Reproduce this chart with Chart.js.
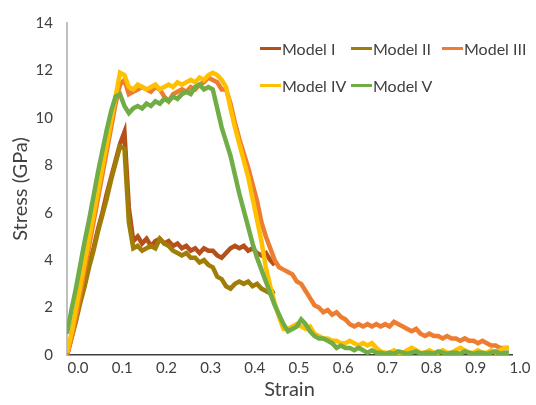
<!DOCTYPE html>
<html>
<head>
<meta charset="utf-8">
<script src="https://cdn.jsdelivr.net/npm/chart.js@4/dist/chart.umd.min.js"></script>
<style>
  body { margin: 0; background: #fff; }
  #wrap { position: relative; width: 536px; height: 405px; }
  #legend {
    position: absolute; left: 260px; top: 30px;
    display: grid; grid-template-columns: 91px 91px 91px; grid-auto-rows: 37px;
    font-family: Lato, sans-serif; font-size: 16px; color: #404040;
  }
  #legend .item { display: flex; align-items: center; }
  #legend .swatch { width: 21px; height: 3px; margin-right: 1px; }
</style>
</head>
<body>
<div id="wrap">
  <canvas id="chart"></canvas>
  <div id="legend"></div>
</div>
<script>
const strain = [
  -0.025, -0.015, -0.005, 0.005, 0.015, 0.025, 0.035, 0.045, 0.055, 0.065,
  0.075, 0.085, 0.095, 0.105, 0.115, 0.125, 0.135, 0.145, 0.155, 0.165,
  0.175, 0.185, 0.195, 0.205, 0.215, 0.225, 0.235, 0.245, 0.255, 0.265,
  0.275, 0.285, 0.295, 0.305, 0.315, 0.325, 0.335, 0.345, 0.355, 0.365,
  0.375, 0.385, 0.395, 0.405, 0.415, 0.425, 0.435, 0.445, 0.455, 0.465,
  0.475, 0.485, 0.495, 0.505, 0.515, 0.525, 0.535, 0.545, 0.555, 0.565,
  0.575, 0.585, 0.595, 0.605, 0.615, 0.625, 0.635, 0.645, 0.655, 0.665,
  0.675, 0.685, 0.695, 0.705, 0.715, 0.725, 0.735, 0.745, 0.755, 0.765,
  0.775, 0.785, 0.795, 0.805, 0.815, 0.825, 0.835, 0.845, 0.855, 0.865,
  0.875, 0.885, 0.895, 0.905, 0.915, 0.925, 0.935, 0.945, 0.955, 0.965,
  0.975
];

const modelI = [
  0.0, 0.75, 1.5, 2.3, 3.0, 3.8, 4.5, 5.3, 6.0, 6.8,
  7.5, 8.2, 8.9, 9.4, 6.2, 4.8, 5.0, 4.7, 4.9, 4.6,
  4.8, 4.9, 4.7, 4.8, 4.6, 4.7, 4.5, 4.6, 4.4, 4.5,
  4.3, 4.5, 4.4, 4.4, 4.2, 4.1, 4.3, 4.5, 4.6, 4.5,
  4.6, 4.4, 4.5, 4.3, 4.2, 4.3, 4.0, 3.8
];

const modelII = [
  0.0, 0.7, 1.4, 2.2, 2.9, 3.7, 4.4, 5.2, 5.9, 6.6,
  7.4, 8.1, 8.8, 8.7, 5.6, 4.5, 4.6, 4.4, 4.5, 4.6,
  4.5, 4.9, 4.7, 4.6, 4.4, 4.3, 4.2, 4.3, 4.1, 4.1,
  3.9, 4.0, 3.8, 3.7, 3.3, 3.2, 2.9, 2.8, 3.0, 3.1,
  3.0, 3.1, 2.9, 3.0, 2.8, 2.7, 2.6, 2.7
];

const modelIII = [
  0.0, 0.7, 1.6, 2.6, 3.6, 4.6, 5.6, 6.6, 7.6, 8.6,
  9.6, 10.6, 11.4, 11.6, 11.0, 11.1, 11.2, 11.3, 11.2, 11.1,
  11.3, 11.2, 10.9, 10.7, 11.0, 11.1, 11.2, 11.1, 11.3, 11.2,
  11.4, 11.5, 11.7, 11.6, 11.5, 11.2, 11.2, 10.6, 9.8, 9.1,
  8.5, 7.9, 7.2, 6.5, 5.6, 5.0, 4.5, 4.0, 3.7, 3.6,
  3.5, 3.4, 3.1, 3.0, 2.7, 2.4, 2.1, 2.0, 1.8, 1.9,
  1.7, 1.8, 1.6, 1.5, 1.3, 1.2, 1.3, 1.2, 1.3, 1.2,
  1.3, 1.2, 1.3, 1.2, 1.4, 1.3, 1.2, 1.1, 1.0, 1.1,
  0.9, 0.8, 0.9, 0.8, 0.8, 0.7, 0.8, 0.7, 0.7, 0.6,
  0.7, 0.6, 0.6, 0.5, 0.6, 0.5, 0.4, 0.4, 0.3, 0.3,
  0.3
];

const modelIV = [
  0.1, 0.9, 1.9, 2.9, 3.9, 4.9, 5.9, 6.9, 7.9, 8.9,
  9.9, 10.9, 11.9, 11.8, 11.3, 11.2, 11.4, 11.3, 11.2, 11.3,
  11.4, 11.2, 11.3, 11.4, 11.3, 11.5, 11.4, 11.5, 11.6, 11.5,
  11.7, 11.6, 11.8, 11.9, 11.8, 11.6, 11.3, 10.4, 9.6, 8.9,
  8.2, 7.5, 6.6, 5.7, 4.8, 3.7, 2.9, 2.2, 1.6, 1.1,
  1.1, 1.2, 1.3, 1.2, 1.1, 1.2, 0.9, 0.8, 0.7, 0.7,
  0.6, 0.6, 0.5, 0.5, 0.6, 0.5, 0.4, 0.5, 0.4, 0.5,
  0.3, 0.15, 0.1, 0.1, 0.2, 0.1, 0.1, 0.2, 0.3, 0.2,
  0.1, 0.1, 0.2, 0.1, 0.1, 0.2, 0.1, 0.1, 0.2, 0.3,
  0.2, 0.1, 0.1, 0.2, 0.1, 0.1, 0.2, 0.1, 0.2, 0.3,
  0.3
];

const modelV = [
  0.9, 1.9, 2.8, 3.8, 4.8, 5.7, 6.7, 7.7, 8.6, 9.5,
  10.3, 10.9, 11.0, 10.5, 10.2, 10.4, 10.5, 10.4, 10.6, 10.5,
  10.7, 10.6, 10.8, 10.7, 10.9, 10.8, 11.0, 11.1, 11.0, 11.3,
  11.4, 11.2, 11.3, 11.2, 10.4, 9.6, 9.0, 8.4, 7.6, 6.8,
  6.1, 5.4, 4.7, 4.1, 3.6, 3.1, 2.6, 2.1, 1.7, 1.3,
  1.0, 1.1, 1.2, 1.5, 1.3, 1.0, 0.8, 0.7, 0.7, 0.6,
  0.5, 0.3, 0.4, 0.3, 0.3, 0.2, 0.3, 0.2, 0.1, 0.2,
  0.1, 0.1, 0.05, 0.1, 0.05, 0.15, 0.1, 0.05, 0.1, 0.15,
  0.05, 0.1, 0.1, 0.05, 0.15, 0.1, 0.05, 0.1, 0.1, 0.05,
  0.15, 0.1, 0.05, 0.1, 0.1, 0.05, 0.1, 0.15, 0.05, 0.1,
  0.1
];

const xTicks = [0.0, 0.1, 0.2, 0.3, 0.4, 0.5, 0.6, 0.7, 0.8, 0.9, 1.0];

const seriesNames = ['Model I', 'Model II', 'Model III', 'Model IV', 'Model V'];
const seriesValues = [modelI, modelII, modelIII, modelIV, modelV];
const seriesColors = ['#B5501A', '#A07D06', '#ED7D31', '#FFC000', '#70AD47'];

const font = 'Lato, sans-serif';

const datasets = seriesNames.map((name, i) => ({
  label: name,
  data: seriesValues[i].map((v, j) => ({ x: strain[j], y: v })),
  borderColor: seriesColors[i],
  backgroundColor: seriesColors[i],
  borderWidth: 4.5,
  pointRadius: 0,
  tension: 0,
  order: seriesNames.length - i
}));

new Chart(document.getElementById('chart'), {
  type: 'line',
  data: { datasets },
  options: {
    responsive: true,
    maintainAspectRatio: false,
    animation: false,
    layout: { padding: { left: 0, right: 24, top: 17, bottom: 0 } },
    plugins: { legend: { display: false }, tooltip: { enabled: false } },
    scales: {
      x: {
        type: 'linear',
        min: -0.025,
        max: 0.982,
        grid: { display: false, drawTicks: false },
        border: { display: true, color: '#404040', width: 1.5 },
        afterBuildTicks: scale => { scale.ticks = xTicks.map(v => ({ value: v })); },
        afterFit: scale => { scale.height = 50; },
        ticks: {
          autoSkip: false,
          maxRotation: 0,
          padding: 4,
          color: '#404040',
          font: { family: font, size: 15 },
          callback: v => v.toFixed(1)
        },
        title: {
          display: true,
          text: 'Strain',
          color: '#404040',
          font: { family: font, size: 20 },
          padding: { top: 0, bottom: 3 }
        }
      },
      y: {
        min: 0,
        max: 14,
        grid: { display: false, drawTicks: false },
        border: { display: true, color: '#BFBFBF', width: 2 },
        afterFit: scale => { scale.width = 67; },
        ticks: {
          stepSize: 2,
          padding: 14,
          color: '#404040',
          font: { family: font, size: 15 }
        },
        title: {
          display: true,
          text: 'Stress (GPa)',
          color: '#404040',
          font: { family: font, size: 20 },
          padding: { top: 9, bottom: 0 }
        }
      }
    }
  }
});

const legend = document.getElementById('legend');
seriesNames.forEach((name, i) => {
  const item = document.createElement('div');
  item.className = 'item';
  const sw = document.createElement('span');
  sw.className = 'swatch';
  sw.style.background = seriesColors[i];
  const txt = document.createElement('span');
  txt.textContent = name;
  item.appendChild(sw);
  item.appendChild(txt);
  legend.appendChild(item);
});
</script>
</body>
</html>
